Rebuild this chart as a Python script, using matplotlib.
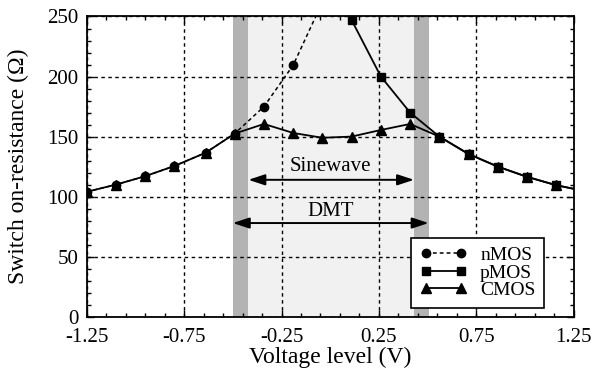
import matplotlib
matplotlib.use("Agg")
import matplotlib.pyplot as plt
from matplotlib.ticker import MultipleLocator

plt.rcParams['font.family'] = ['Liberation Serif', 'DejaVu Serif']
plt.rcParams['mathtext.fontset'] = 'stix'

# ---- data ----
volt = [-1.25, -1.10, -0.95, -0.80, -0.64, -0.49, -0.34, -0.19, -0.04,
        0.11, 0.26, 0.41, 0.56, 0.71, 0.86, 1.01, 1.16, 1.31]
nmos_x = volt[:9]
nmos_r = [104, 110, 117, 125.5, 136.5, 152.5, 175, 209.5, 262]
pmos_x = volt[8:]
pmos_r = [330, 247, 200, 170, 150, 135.5, 125, 116.5, 109.5, 104.5]
cmos_x = volt
cmos_r = [104, 110, 117, 125.5, 136.5, 152.5, 160.5, 153, 149, 150, 155.5,
          160.5, 150, 135.5, 125, 116.5, 109.5, 104.5]

xticks = [-1.25, -0.75, -0.25, 0.25, 0.75, 1.25]
xticklabels = ['-1.25', '-0.75', '-0.25', '0.25', '0.75', '1.25']
yticks = [0, 50, 100, 150, 200, 250]

band_left = (-0.50, -0.42)
band_right = (0.43, 0.505)
sine_span = (-0.42, 0.43)
dmt_span = (-0.50, 0.505)

# ---- figure ----
fig = plt.figure(figsize=(5.93, 3.69), dpi=100)
ax = fig.add_axes([0.1462, 0.1417, 0.8213, 0.8136])

ax.set_xlim(-1.25, 1.25)
ax.set_ylim(0, 250)

ax.axvspan(sine_span[0], sine_span[1], color='#f1f1f1', zorder=0, lw=0)
ax.axvspan(*band_left, color='#b3b3b3', zorder=0.5, lw=0)
ax.axvspan(*band_right, color='#b3b3b3', zorder=0.5, lw=0)

ax.grid(True, which='major', color='black', linestyle=(0, (2.5, 2.5)), linewidth=1.0, zorder=1)
ax.set_axisbelow(False)

ln_n, = ax.plot(nmos_x, nmos_r, color='black', linestyle=(0, (2.5, 2)), lw=1.1,
                marker='o', markersize=6, zorder=3, label='nMOS')
ln_p, = ax.plot(pmos_x, pmos_r, color='black', linestyle='-', lw=1.3,
                marker='s', markersize=6, zorder=3, label='pMOS')
ln_c, = ax.plot(cmos_x, cmos_r, color='black', linestyle='-', lw=1.3,
                marker='^', markersize=6.5, zorder=3, label='CMOS')

arrow_style = '<|-|>,head_length=1.0,head_width=0.33'
ax.annotate('', xy=(sine_span[1], 114), xytext=(sine_span[0], 114),
            arrowprops=dict(arrowstyle=arrow_style,
                            color='black', lw=1.4, shrinkA=0, shrinkB=0), zorder=4)
ax.text(0.0, 125, 'Sinewave', ha='center', va='center', fontsize=15, zorder=4)
ax.annotate('', xy=(dmt_span[1], 78), xytext=(dmt_span[0], 78),
            arrowprops=dict(arrowstyle=arrow_style,
                            color='black', lw=1.4, shrinkA=0, shrinkB=0), zorder=4)
ax.text(0.0, 88, 'DMT', ha='center', va='center', fontsize=15, zorder=4)

ax.set_xticks(xticks)
ax.set_xticklabels(xticklabels)
ax.set_yticks(yticks)
ax.xaxis.set_minor_locator(MultipleLocator(0.1, offset=0.05))
ax.yaxis.set_minor_locator(MultipleLocator(10))
ax.tick_params(which='both', direction='in', top=True, right=True, labelsize=15, width=1.0)
ax.tick_params(which='major', length=5)
ax.tick_params(axis='x', which='major', pad=8)
ax.tick_params(axis='y', which='major', pad=6)
ax.tick_params(which='minor', length=3)
for s in ax.spines.values():
    s.set_linewidth(1.3)

ax.set_xlabel('Voltage level (V)', fontsize=17, labelpad=0)
ax.set_ylabel('Switch on-resistance (Ω)', fontsize=17, labelpad=13)

leg = ax.legend(handles=[ln_n, ln_p, ln_c], loc='lower left', bbox_to_anchor=(0.666, 0.029),
                fontsize=14, frameon=True, fancybox=False, numpoints=2, handlelength=2.4,
                labelspacing=0.0, borderpad=0.45, handletextpad=0.7, borderaxespad=0)
leg.get_frame().set_edgecolor('black')
leg.get_frame().set_linewidth(1.2)
leg.get_frame().set_alpha(1)
leg.set_zorder(5)

fig.savefig('out.png', dpi=100)
